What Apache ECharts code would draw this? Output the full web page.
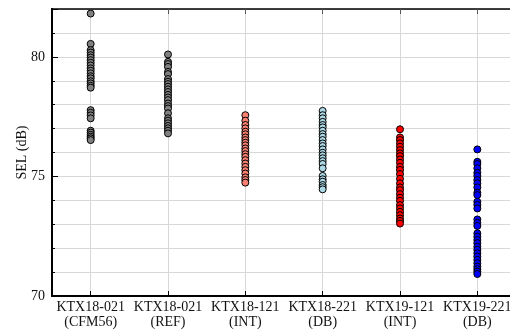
<!DOCTYPE html>
<html>
<head>
<meta charset="utf-8">
<script src="https://cdn.jsdelivr.net/npm/echarts@6/dist/echarts.min.js"></script>
<style>
html, body { margin: 0; padding: 0; background: #fff; }
#chart { width: 510px; height: 331px; }
</style>
</head>
<body>
<div id="chart"></div>
<script>
// 机型类别
const categories = ['KTX18-021\n(CFM56)', 'KTX18-021\n(REF)', 'KTX18-121\n(INT)',
  'KTX18-221\n(DB)', 'KTX19-121\n(INT)', 'KTX19-221\n(DB)'];

// 每个类别的 SEL 测量值 (dB)
const selCfm56 = [81.81, 80.54, 80.28, 80.18, 80.07, 79.97, 79.86, 79.75, 79.64, 79.52,
  79.42, 79.31, 79.19, 79.10, 78.98, 78.89, 78.79, 78.71, 77.77, 77.66, 77.55, 77.43,
  76.91, 76.83, 76.74, 76.66, 76.59, 76.52];
const selRef = [80.10, 79.79, 79.70, 79.58, 79.37, 79.28, 79.07, 78.96, 78.86, 78.75,
  78.64, 78.53, 78.41, 78.30, 78.19, 78.05, 77.94, 77.84, 77.64, 77.43, 77.33, 77.22,
  77.11, 77.01, 76.91, 76.80];
const sel18Int = [77.56, 77.33, 77.15, 77.01, 76.87, 76.76, 76.63, 76.52, 76.41, 76.30,
  76.17, 76.06, 75.93, 75.82, 75.68, 75.54, 75.40, 75.26, 75.12, 74.96, 74.85, 74.74];
const sel18Db = [77.74, 77.56, 77.43, 77.28, 77.15, 77.05, 76.91, 76.77, 76.66, 76.52,
  76.38, 76.27, 76.13, 75.99, 75.88, 75.76, 75.64, 75.52, 75.34, 75.02, 74.88, 74.78,
  74.64, 74.55, 74.46];
const sel19Int = [76.97, 76.63, 76.52, 76.38, 76.24, 76.10, 75.96, 75.85, 75.71, 75.57,
  75.40, 75.27, 75.10, 74.90, 74.71, 74.54, 74.43, 74.26, 74.11, 73.98, 73.80, 73.66,
  73.52, 73.38, 73.24, 73.14, 73.03];
const sel19Db = [76.13, 75.61, 75.52, 75.34, 75.15, 75.02, 74.85, 74.71, 74.54, 74.32,
  74.22, 73.94, 73.81, 73.66, 73.20, 73.06, 72.93, 72.62, 72.48, 72.34, 72.21, 72.06,
  71.93, 71.79, 71.65, 71.51, 71.37, 71.23, 71.12, 71.02, 70.92];

const groups = [selCfm56, selRef, sel18Int, sel18Db, sel19Int, sel19Db];
const colors = ['#808080', '#808080', '#fa8072', '#add8e6', '#ff0000', '#0000ff'];

const font = 'Liberation Serif';
let chart = echarts.init(document.getElementById('chart'));

let series = [];
for (let i in groups) {
  series.push({
    type: 'scatter',
    xAxisIndex: 0,
    yAxisIndex: 0,
    symbol: 'circle',
    symbolSize: 7,
    itemStyle: {
      color: colors[i],
      borderColor: '#000',
      borderWidth: 1,
      opacity: 1
    },
    data: groups[i].map(v => [categories[i], v])
  });
}

// 两个重叠的 grid：第二个只用来画 70/75/80 的长刻度
const gridRect = { left: 52, top: 9, bottom: 35, width: 464, outerBoundsMode: 'none', containLabel: false };

let option = {
  animation: false,
  textStyle: { fontFamily: font },
  grid: [Object.assign({}, gridRect), Object.assign({}, gridRect)],
  xAxis: [
    {
      type: 'category',
      gridIndex: 0,
      data: categories,
      position: 'bottom',
      boundaryGap: true,
      axisLine: { show: true, lineStyle: { color: '#000', width: 2 } },
      axisTick: { show: true, inside: true, alignWithLabel: true, length: 5, lineStyle: { color: '#000' } },
      axisLabel: { color: '#111', fontFamily: font, fontSize: 14, margin: 4, lineHeight: 15, interval: 0 },
      splitLine: { show: true, alignWithLabel: true, lineStyle: { color: '#d8d8d8', width: 1 } }
    },
    {
      type: 'category',
      gridIndex: 0,
      data: categories,
      position: 'top',
      boundaryGap: true,
      axisLine: { show: true, lineStyle: { color: '#000', width: 1.5 } },
      axisTick: { show: true, inside: true, alignWithLabel: true, length: 5, lineStyle: { color: '#555' } },
      axisLabel: { show: false },
      splitLine: { show: false }
    },
    {
      type: 'category',
      gridIndex: 1,
      data: categories,
      show: false
    }
  ],
  yAxis: [
    {
      type: 'value',
      gridIndex: 0,
      min: 70,
      max: 82,
      interval: 1,
      position: 'left',
      name: 'SEL (dB)',
      nameLocation: 'middle',
      nameGap: 23,
      nameMoveOverlap: false,
      nameTextStyle: { color: '#111', fontFamily: font, fontSize: 14 },
      axisLine: { show: true, lineStyle: { color: '#000', width: 2 } },
      axisTick: { show: true, inside: true, length: 3, lineStyle: { color: '#000' } },
      axisLabel: {
        color: '#111', fontFamily: font, fontSize: 14, margin: 7,
        formatter: v => (v % 5 === 0 ? String(v) : '')
      },
      splitLine: { show: true, lineStyle: { color: '#d8d8d8', width: 1 } }
    },
    {
      type: 'value',
      gridIndex: 1,
      min: 70,
      max: 82,
      interval: 5,
      position: 'left',
      axisLine: { show: true, lineStyle: { color: '#000', width: 2 } },
      axisTick: { show: true, inside: true, length: 6, lineStyle: { color: '#000' } },
      axisLabel: { show: false },
      splitLine: { show: false }
    }
  ],
  series: series
};

chart.setOption(option);
</script>
</body>
</html>
